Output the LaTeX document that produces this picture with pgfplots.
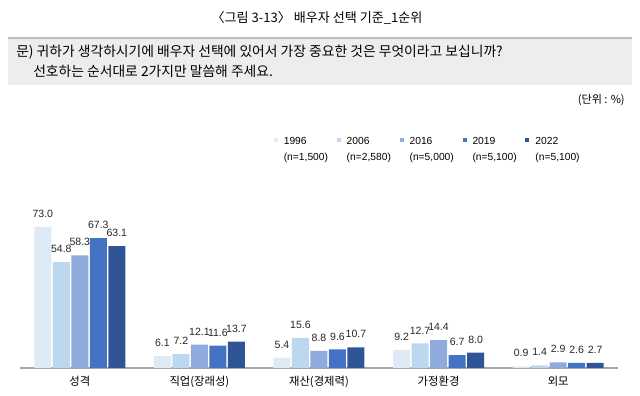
\documentclass[border=0pt]{standalone}
\usepackage{fontspec}
\setmainfont{Liberation Sans}
\newfontfamily\kr{Noto Sans CJK KR}
\usepackage{pgfplots}
\pgfplotsset{compat=1.18}
\definecolor{c1}{HTML}{DEEBF7}
\definecolor{c2}{HTML}{BDD7EE}
\definecolor{c3}{HTML}{8FAADC}
\definecolor{c4}{HTML}{4472C4}
\definecolor{c5}{HTML}{2F5597}
\definecolor{boxfill}{HTML}{EDEDED}
\definecolor{boxline}{HTML}{BFBFBF}
\begin{document}
\begin{tikzpicture}[x=0.75pt,y=0.75pt]
\useasboundingbox (0,0) rectangle (640,396);
\node[font=\kr\fontsize{9.8}{11}\selectfont, anchor=base] at (317,373) {〈그림 3-13〉 배우자 선택 기준\_1순위};
\fill[boxfill] (8,311) rectangle (632,358);
\draw[boxline, line width=0.8pt] (8,358) -- (632,358);
\node[font=\kr\fontsize{10.35}{12}\selectfont, anchor=base west, inner sep=0] at (16,339) {문) 귀하가 생각하시기에 배우자 선택에 있어서 가장 중요한 것은 무엇이라고 보십니까?};
\node[font=\kr\fontsize{10.35}{12}\selectfont, anchor=base west, inner sep=0] at (33,319) {선호하는 순서대로 2가지만 말씀해 주세요.};
\node[font=\kr\fontsize{8.3}{10}\selectfont, anchor=base east, inner sep=0] at (625,292) {(단위 : \%)};
\begin{axis}[
  at={(15pt,21pt)}, anchor=south west,
  scale only axis, width=448.5pt, height=115.9pt,
  xmin=-0.5, xmax=4.5, ymin=0, ymax=80,
  axis x line*=bottom, axis y line=none,
  x axis line style={draw=gray!70, line width=0.8pt, -},
  xtick={0,1,2,3,4},
  xticklabels={성격,직업(장래성),재산(경제력),가정환경,외모},
  xticklabel style={font=\kr\fontsize{8.5}{10}\selectfont, yshift=-2.5pt},
  major tick length=0pt,
  ybar=1.125pt, bar width=12.75pt,
  /pgf/number format/fixed, /pgf/number format/fixed zerofill,
  /pgf/number format/precision=1, /pgf/number format/assume math mode=true,
  nodes near coords,
  nodes near coords style={font=\fontsize{7.9}{9}\selectfont, anchor=south, inner sep=0pt, yshift=6.8pt, text=black!85},
  legend columns=5,
  legend image code/.code={\fill[#1] (0pt,0.5pt) rectangle (3pt,3.5pt);},
  legend style={draw=none, fill=none, inner sep=0pt, font=\fontsize{7.7}{9}\selectfont,
    at={(rel axis cs:0.424,1.51)}, anchor=north west,
    cells={anchor=west},
    /tikz/every odd column/.append style={column sep=2.5pt},
    /tikz/every even column/.append style={column sep=4.5pt},
    row sep=1pt},
  clip=false,
]
\addplot[fill=c1, draw=none] coordinates {(0,73.0) (1,6.1) (2,5.4) (3,9.2) (4,0.9)};
\addlegendentry{1996}
\addplot[fill=c2, draw=none] coordinates {(0,54.8) (1,7.2) (2,15.6) (3,12.7) (4,1.4)};
\addlegendentry{2006}
\addplot[fill=c3, draw=none] coordinates {(0,58.3) (1,12.1) (2,8.8) (3,14.4) (4,2.9)};
\addlegendentry{2016}
\addplot[fill=c4, draw=none] coordinates {(0,67.3) (1,11.6) (2,9.6) (3,6.7) (4,2.6)};
\addlegendentry{2019}
\addplot[fill=c5, draw=none] coordinates {(0,63.1) (1,13.7) (2,10.7) (3,8.0) (4,2.7)};
\addlegendentry{2022}
\addlegendimage{empty legend}\addlegendentry{(n=1,500)}
\addlegendimage{empty legend}\addlegendentry{(n=2,580)}
\addlegendimage{empty legend}\addlegendentry{(n=5,000)}
\addlegendimage{empty legend}\addlegendentry{(n=5,100)}
\addlegendimage{empty legend}\addlegendentry{(n=5,100)}
\end{axis}
\end{tikzpicture}
\end{document}
